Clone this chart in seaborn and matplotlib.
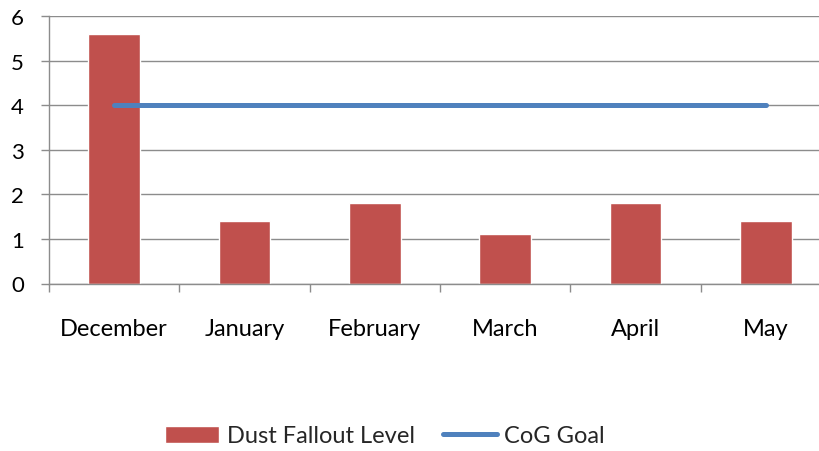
import matplotlib
matplotlib.use("Agg")
import matplotlib.pyplot as plt
import seaborn as sns
import pandas as pd
import numpy as np
from matplotlib.ticker import FixedLocator

# Data
months = ['December', 'January', 'February', 'March', 'April', 'May']
dust_fallout = [5.6, 1.4, 1.8, 1.1, 1.8, 1.4]
cog_goal = [4, 4, 4, 4, 4, 4]

df = pd.DataFrame({'Month': months, 'Dust Fallout Level': dust_fallout, 'CoG Goal': cog_goal})

sns.set_style('white')
plt.rcParams['font.family'] = ['Lato', 'DejaVu Sans']

fig = plt.figure(figsize=(8.2, 4.52), dpi=100)
ax = fig.add_axes([49 / 820, 1 - 284.5 / 452, 782 / 820, 267.5 / 452])

sns.barplot(data=df, x='Month', y='Dust Fallout Level', color='#C0504D', saturation=1,
            width=0.395, ax=ax, label='Dust Fallout Level')
sns.lineplot(data=df, x='Month', y='CoG Goal', color='#4F81BD', linewidth=3.6, ax=ax,
             label='CoG Goal', solid_capstyle='round')

ax.set_xlim(-0.5, 5.5)
ax.set_ylim(0, 6)
ax.set_yticks(range(0, 7))
ax.yaxis.grid(True, color='#8c8c8c', linewidth=1.0)
ax.set_axisbelow(True)
ax.set_xlabel('')
ax.set_ylabel('')

for side in ['top', 'right']:
    ax.spines[side].set_visible(False)
for side in ['left', 'bottom']:
    ax.spines[side].set_color('#8c8c8c')
    ax.spines[side].set_linewidth(1.0)

ax.xaxis.set_minor_locator(FixedLocator(np.arange(-0.5, 6.0, 1.0)))
ax.tick_params(axis='x', which='major', length=0, pad=25, labelsize=17, colors='black')
ax.tick_params(axis='x', which='minor', length=6, width=1, color='#8c8c8c', direction='out', bottom=True)
ax.tick_params(axis='y', which='major', length=6, width=1, color='#8c8c8c', left=True,
               pad=12, labelsize=16, labelcolor='black')

if ax.get_legend():
    ax.get_legend().remove()
handles, labels = ax.get_legend_handles_labels()
order = [labels.index('Dust Fallout Level'), labels.index('CoG Goal')]
fig.legend([handles[i] for i in order], [labels[i] for i in order], loc='center',
           bbox_to_anchor=(385 / 820, 1 - 437 / 452), ncol=2,
           frameon=False, fontsize=17, handlelength=2.3, handleheight=0.7,
           handletextpad=0.3, columnspacing=1.2)

fig.savefig('out.png', dpi=100)
